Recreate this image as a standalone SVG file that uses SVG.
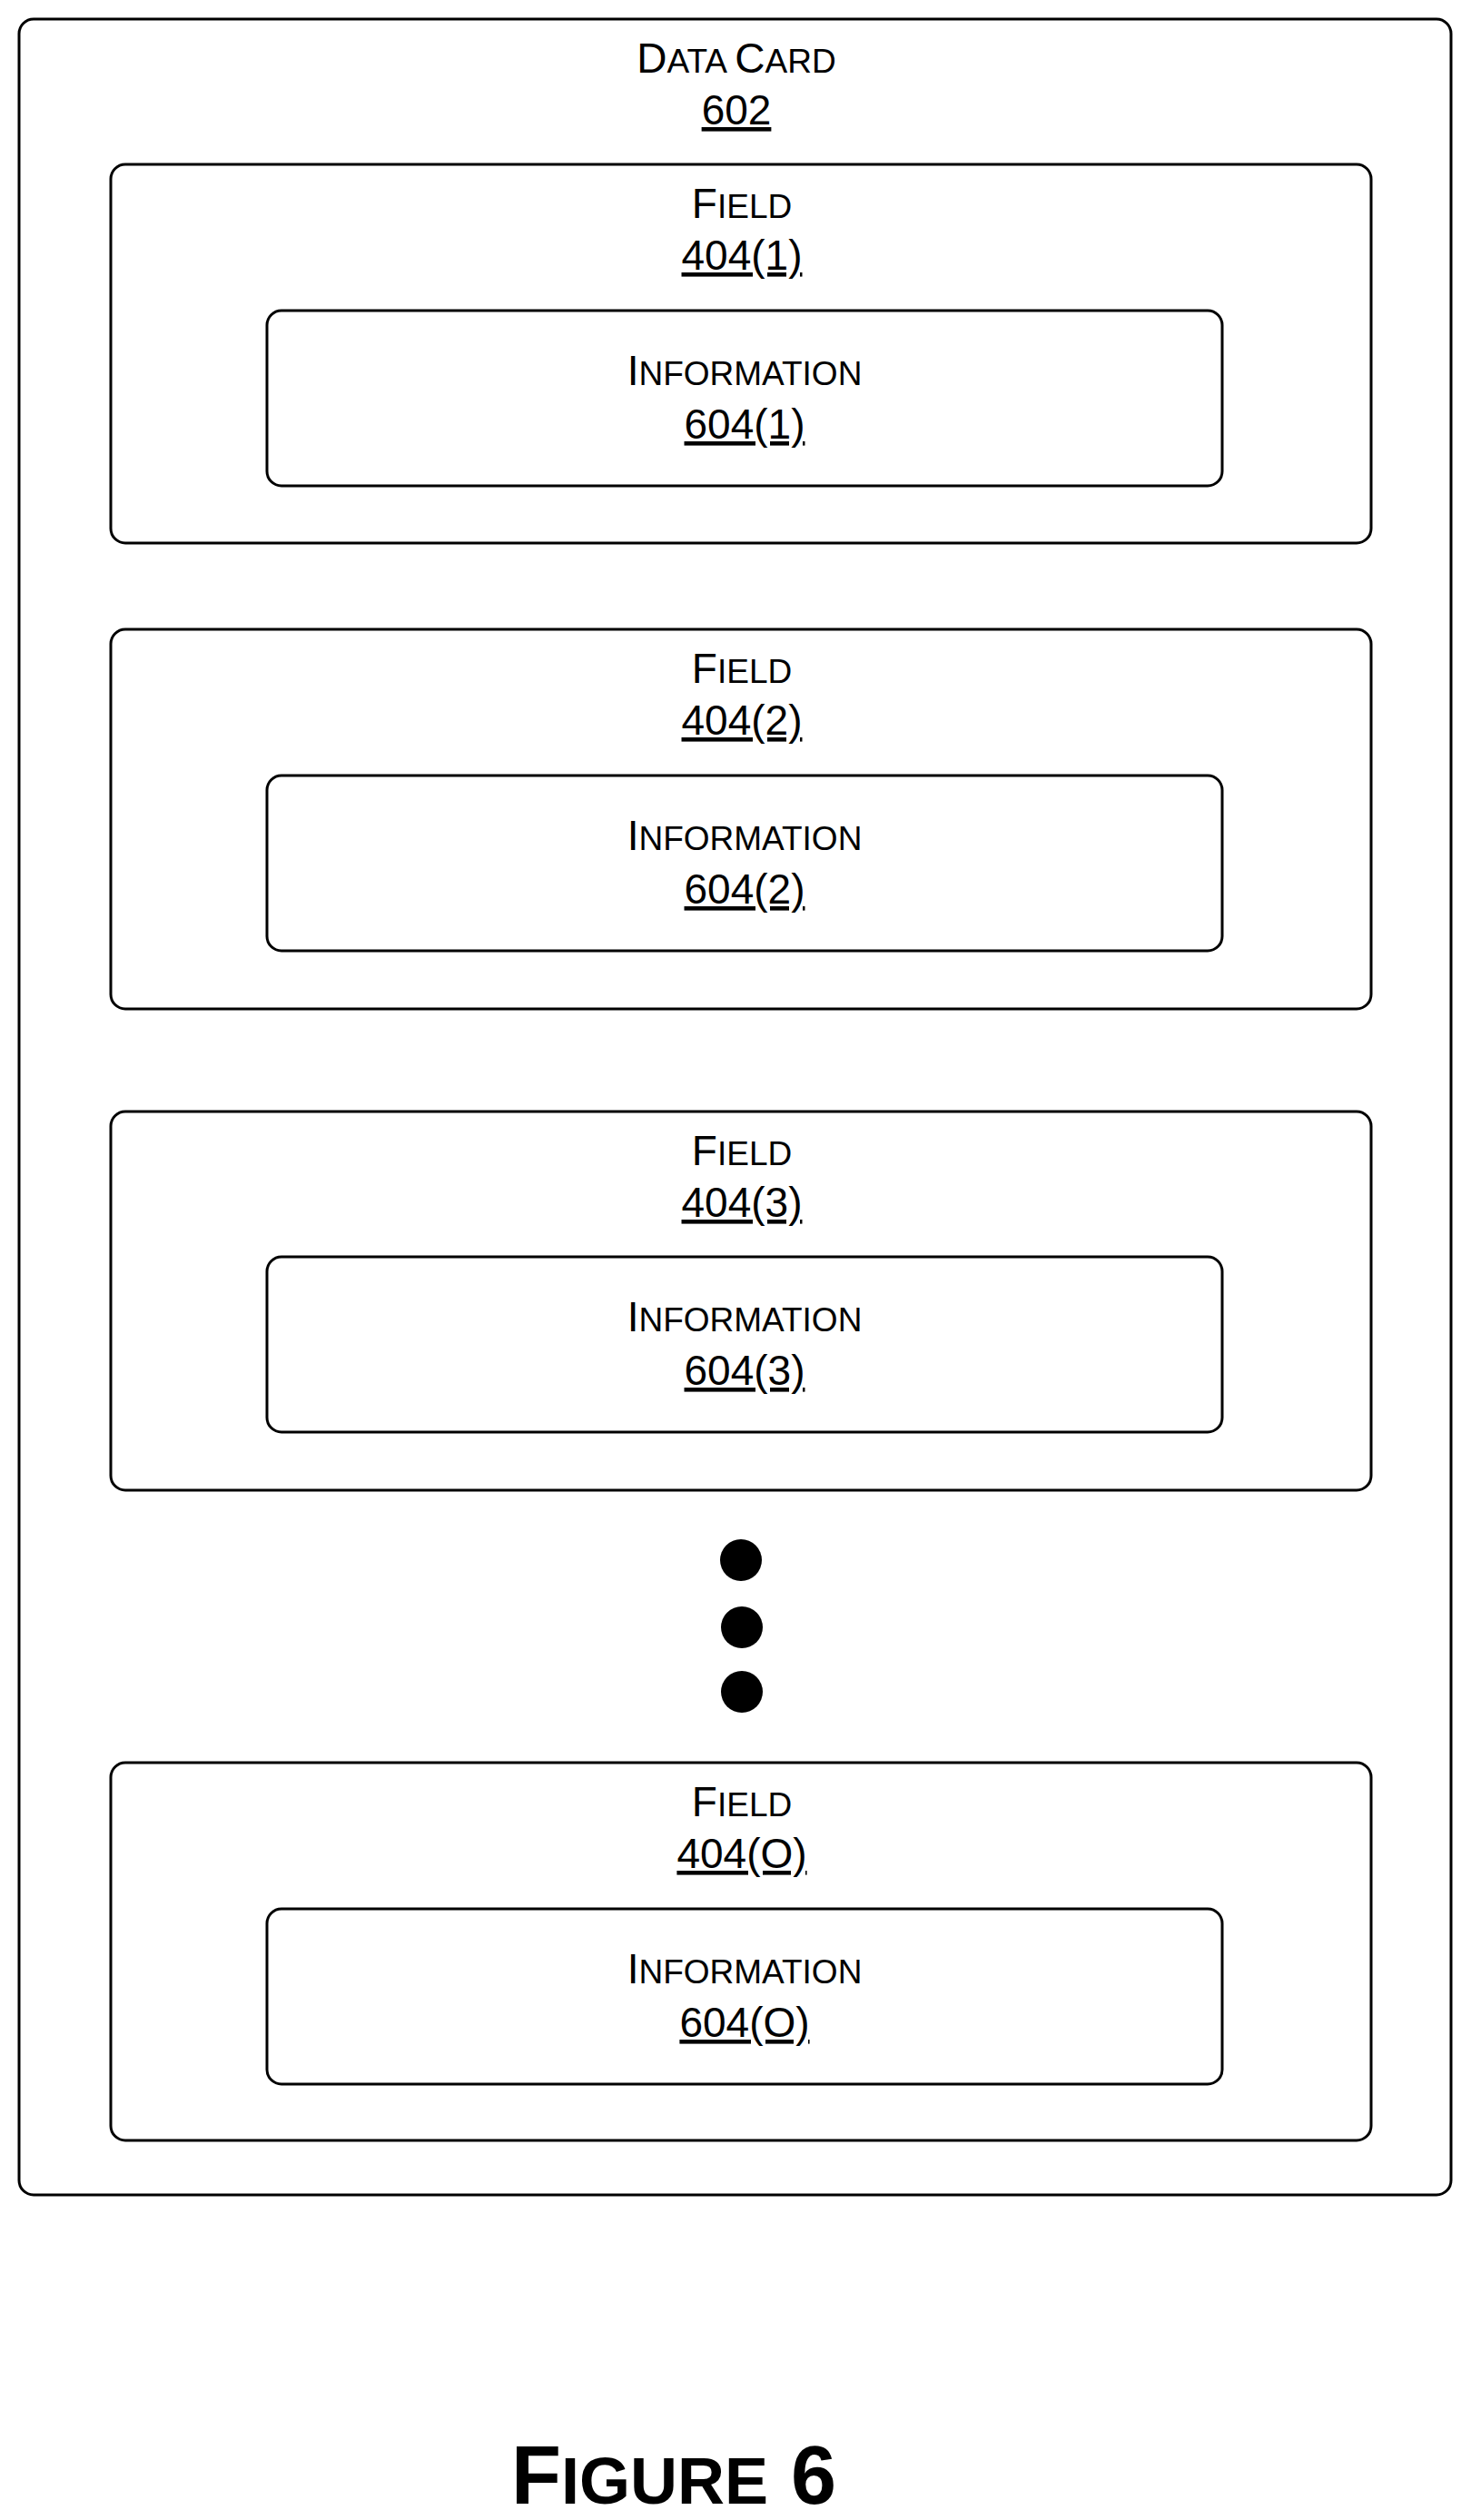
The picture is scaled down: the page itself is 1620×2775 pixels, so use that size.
<svg xmlns="http://www.w3.org/2000/svg" width="1620" height="2775" viewBox="0 0 1620 2775">
<style>
.b{fill:#fff;stroke:#000;stroke-width:3}
.t{font-family:"Liberation Sans Narrow","Liberation Sans",Arial,sans-serif;font-size:46px;text-anchor:middle;fill:#000}
.s{font-size:37px}
.u{text-decoration:underline}
.f{font-family:"Liberation Sans Narrow","Liberation Sans",Arial,sans-serif;font-weight:bold;font-size:90px;text-anchor:middle}
</style>
<rect width="1620" height="2775" fill="#fff"/>
<g id="card602">
<rect class="b" x="21" y="21" width="1577" height="2396" rx="16"/>
<text class="t" x="811" y="80">D<tspan class="s">ATA </tspan>C<tspan class="s">ARD</tspan></text>
<text class="t u" x="811" y="137">602</text>
</g>
<g id="field1">
<rect class="b" x="122" y="181" width="1388" height="417" rx="16"/>
<text class="t" x="817" y="240">F<tspan class="s">IELD</tspan></text>
<text class="t u" x="817" y="297">404(1)</text>
</g>
<g id="info1">
<rect class="b" x="294" y="342" width="1052" height="193" rx="16"/>
<text class="t" x="820" y="424">I<tspan class="s">NFORMATION</tspan></text>
<text class="t u" x="820" y="483">604(1)</text>
</g>
<g id="field2">
<rect class="b" x="122" y="693" width="1388" height="418" rx="16"/>
<text class="t" x="817" y="752">F<tspan class="s">IELD</tspan></text>
<text class="t u" x="817" y="809">404(2)</text>
</g>
<g id="info2">
<rect class="b" x="294" y="854" width="1052" height="193" rx="16"/>
<text class="t" x="820" y="936">I<tspan class="s">NFORMATION</tspan></text>
<text class="t u" x="820" y="995">604(2)</text>
</g>
<g id="field3">
<rect class="b" x="122" y="1224" width="1388" height="417" rx="16"/>
<text class="t" x="817" y="1283">F<tspan class="s">IELD</tspan></text>
<text class="t u" x="817" y="1340">404(3)</text>
</g>
<g id="info3">
<rect class="b" x="294" y="1384" width="1052" height="193" rx="16"/>
<text class="t" x="820" y="1466">I<tspan class="s">NFORMATION</tspan></text>
<text class="t u" x="820" y="1525">604(3)</text>
</g>
<g id="dots">
<circle cx="816" cy="1718" r="23"/>
<circle cx="817" cy="1792" r="23"/>
<circle cx="817" cy="1863" r="23"/>
</g>
<g id="fieldO">
<rect class="b" x="122" y="1941" width="1388" height="416" rx="16"/>
<text class="t" x="817" y="2000">F<tspan class="s">IELD</tspan></text>
<text class="t u" x="817" y="2057">404(O)</text>
</g>
<g id="infoO">
<rect class="b" x="294" y="2102" width="1052" height="193" rx="16"/>
<text class="t" x="820" y="2184">I<tspan class="s">NFORMATION</tspan></text>
<text class="t u" x="820" y="2243">604(O)</text>
</g>
<g id="connectors"/>
<text class="f" x="742" y="2757">F<tspan font-size="72">IGURE</tspan> 6</text>
</svg>
